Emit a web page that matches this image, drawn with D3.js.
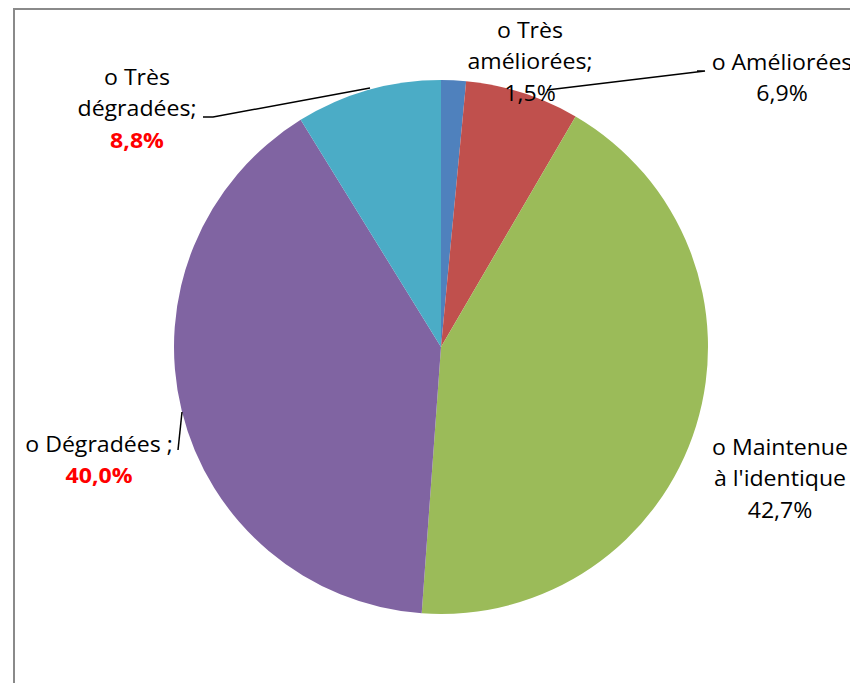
<!DOCTYPE html>
<html>
<head>
<meta charset="utf-8">
<script src="https://cdn.jsdelivr.net/npm/d3@7"></script>
<style>
  body { margin: 0; background: #fff; }
  text { font-family: "Open Sans", Lato, sans-serif; font-size: 21px; fill: #000; }
</style>
</head>
<body>
<script>
// categories and values (percent)
var categories = ["Très améliorées", "Améliorées", "Maintenue à l'identique", "Dégradées", "Très dégradées"];
var values = [1.5, 6.9, 42.7, 40.0, 8.8];
var valueLabels = ["1,5%", "6,9%", "42,7%", "40,0%", "8,8%"];
var colors = ["#4F81BD", "#C0504D", "#9BBB59", "#8064A2", "#4BACC6"];

var width = 850, height = 683;
var cx = 441, cy = 347, radius = 267;

var svg = d3.select("body").append("svg")
    .attr("width", width)
    .attr("height", height);

// chart frame (runs off the right and bottom edge)
svg.append("path")
    .attr("d", "M14,700 L14,9 L860,9")
    .attr("fill", "none")
    .attr("stroke", "#8a8a8a")
    .attr("stroke-width", 2);

var pie = d3.pie().sort(null).value(function(d) { return d; });
var arc = d3.arc().innerRadius(0).outerRadius(radius);
var arcs = pie(values);

var g = svg.append("g").attr("transform", "translate(" + cx + "," + cy + ")");

g.selectAll("path.slice")
  .data(arcs)
  .enter().append("path")
    .attr("class", "slice")
    .attr("d", arc)
    .attr("fill", function(d, i) { return colors[i]; });

// manual label layout (relative to pie centre), as placed in the original
var labelLayout = [
  { x: 89, y: -309, lines: ["o Très", "améliorées;"], red: false, leader: null },
  { x: 341, y: -277, lines: ["o Améliorées"], red: false,
    leader: [[256, -276], [264, -276], [106, -257]] },
  { x: 339, y: 108, lines: ["o Maintenue", "à l'identique"], red: false, leader: null },
  { x: -342, y: 105, lines: ["o Dégradées ;"], red: true,
    leader: [[-263, 103], [-259, 65]] },
  { x: -304, y: -262, lines: ["o Très", "dégradées;"], red: true,
    leader: [[-238, -230], [-228, -230], [-71, -259]] }
];
var lineH = 31.5;
var stretch = 1.1; // original text is a bit wider than Open Sans

// leader lines
g.selectAll("path.leader")
  .data(labelLayout.filter(function(d) { return d.leader; }))
  .enter().append("path")
    .attr("class", "leader")
    .attr("d", function(d) { return d3.line()(d.leader); })
    .attr("fill", "none")
    .attr("stroke", "#000")
    .attr("stroke-width", 1.5);

var labels = g.selectAll("text.lbl")
  .data(labelLayout)
  .enter().append("text")
    .attr("class", "lbl")
    .attr("text-anchor", "middle")
    .attr("transform", function(d) {
      return "translate(" + d.x + "," + d.y + ") scale(" + stretch + ",1)";
    });

labels.each(function(d, i) {
  var t = d3.select(this);
  d.lines.forEach(function(l, j) {
    t.append("tspan").attr("x", 0).attr("dy", j === 0 ? 0 : lineH).text(l);
  });
  t.append("tspan")
    .attr("x", 0)
    .attr("dy", lineH)
    .style("fill", d.red ? "#FF0000" : "#000")
    .style("font-weight", d.red ? "bold" : "normal")
    .text(valueLabels[i]);
});
</script>
</body>
</html>
